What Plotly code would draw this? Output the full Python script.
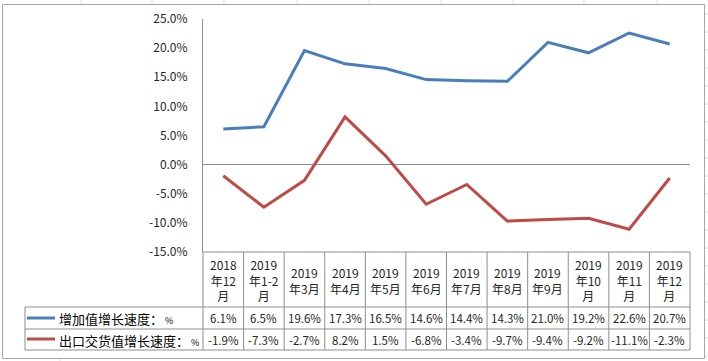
import plotly.graph_objects as go

categories = ["2018<br>年12<br>月", "2019<br>年1-2<br>月", "2019<br>年3月", "2019<br>年4月", "2019<br>年5月",
              "2019<br>年6月", "2019<br>年7月", "2019<br>年8月", "2019<br>年9月", "2019<br>年10<br>月",
              "2019<br>年11<br>月", "2019<br>年12<br>月"]
series1_name = "增加值增长速度：%"
series1 = [6.1, 6.5, 19.6, 17.3, 16.5, 14.6, 14.4, 14.3, 21.0, 19.2, 22.6, 20.7]
series2_name = "出口交货值增长速度：%"
series2 = [-1.9, -7.3, -2.7, 8.2, 1.5, -6.8, -3.4, -9.7, -9.4, -9.2, -11.1, -2.3]
y_ticks = [-15, -10, -5, 0, 5, 10, 15, 20, 25]

W, H = 708, 361
def px(x): return x / W
def py(y): return 1 - y / H

BLUE = "#4A7EBB"
RED = "#BE4B48"
GRID = "#8E8E8E"
TXT = "#262626"
FONT = "Noto Sans CJK SC"

x0, x1 = 203, 690
ytop, ybot = 19, 252
n = len(categories)
cw = (x1 - x0) / n

fig = go.Figure()
idx = list(range(n))
fig.add_trace(go.Scatter(x=idx, y=series1, mode="lines", line=dict(color=BLUE, width=3), name=series1_name))
fig.add_trace(go.Scatter(x=idx, y=series2, mode="lines", line=dict(color=RED, width=3), name=series2_name))

shapes = []
def line(xa, ya, xb, yb, color=GRID, width=1):
    shapes.append(dict(type="line", xref="paper", yref="paper", x0=px(xa), y0=py(ya), x1=px(xb), y1=py(yb),
                       line=dict(color=color, width=width), layer="above"))

# spreadsheet background gridlines
for gx in [81, 152, 224, 297, 369, 441, 513, 584, 657]:
    line(gx, 0, gx, 4, "#dcdcdc")
for gy in range(14, 361, 18):
    line(704, gy, 708, gy, "#dcdcdc")
line(60, 358, 60, 361, "#dcdcdc")
# chart border
shapes.append(dict(type="rect", xref="paper", yref="paper", x0=px(2.5), y0=py(358.5), x1=px(704.5), y1=py(4.5),
                   line=dict(color="#a6a6a6", width=1), layer="above"))

# table lines
table_bottom = 350
for k in range(n + 1):
    line(x0 + cw * k, ybot, x0 + cw * k, table_bottom)
line(25, 307, 25, table_bottom)
for yy in [307, 329, table_bottom]:
    line(25, yy, x1, yy)
line(x0, ybot, x1, ybot)

# legend keys
line(27, 318, 55, 318, BLUE, 3)
line(27, 339, 55, 339, RED, 3)

annotations = []
def text(x, y, s, size=11, xanchor="center"):
    annotations.append(dict(x=px(x), y=py(y), xref="paper", yref="paper", text=s, showarrow=False,
                            xanchor=xanchor, yanchor="middle", font=dict(size=size, color=TXT, family=FONT)))

for i, c in enumerate(categories):
    cx = x0 + cw * (i + 0.5)
    text(cx, 280, c, size=12)
    text(cx, 318, f"{series1[i]:.1f}%", size=11.5)
    text(cx, 340, f"{series2[i]:.1f}%", size=11.5)

for yy, name in [(318, series1_name), (340, series2_name)]:
    annotations.append(dict(x=px(57), y=py(yy), xref="paper", yref="paper",
                            text=name.replace("%", "<span style='font-size:9px'> %</span>"),
                            showarrow=False, xanchor="left", yanchor="middle",
                            font=dict(size=13, color="#000000", family=FONT)))

fig.update_layout(
    width=W, height=H, autosize=False,
    margin=dict(l=0, r=0, t=0, b=0, autoexpand=False),
    paper_bgcolor="white", plot_bgcolor="white",
    showlegend=False,
    shapes=shapes, annotations=annotations,
    xaxis=dict(domain=[px(x0), px(x1)], range=[-0.5, n - 0.5], showticklabels=False, showgrid=False,
               zeroline=False, showline=False, fixedrange=True, automargin=False),
    yaxis=dict(domain=[py(ybot), py(ytop)], range=[-15, 25], tickvals=y_ticks,
               ticktext=[f"{v:.1f}%" for v in y_ticks], showgrid=False,
               zeroline=True, zerolinecolor=GRID, zerolinewidth=1, automargin=False,
               showline=True, linecolor=GRID, linewidth=1, ticks="", ticklabelstandoff=12,
               tickfont=dict(size=12, color=TXT, family=FONT), fixedrange=True),
)

fig.write_html("out.html", config={"displayModeBar": False},
               post_script="document.body.style.margin='0';")
